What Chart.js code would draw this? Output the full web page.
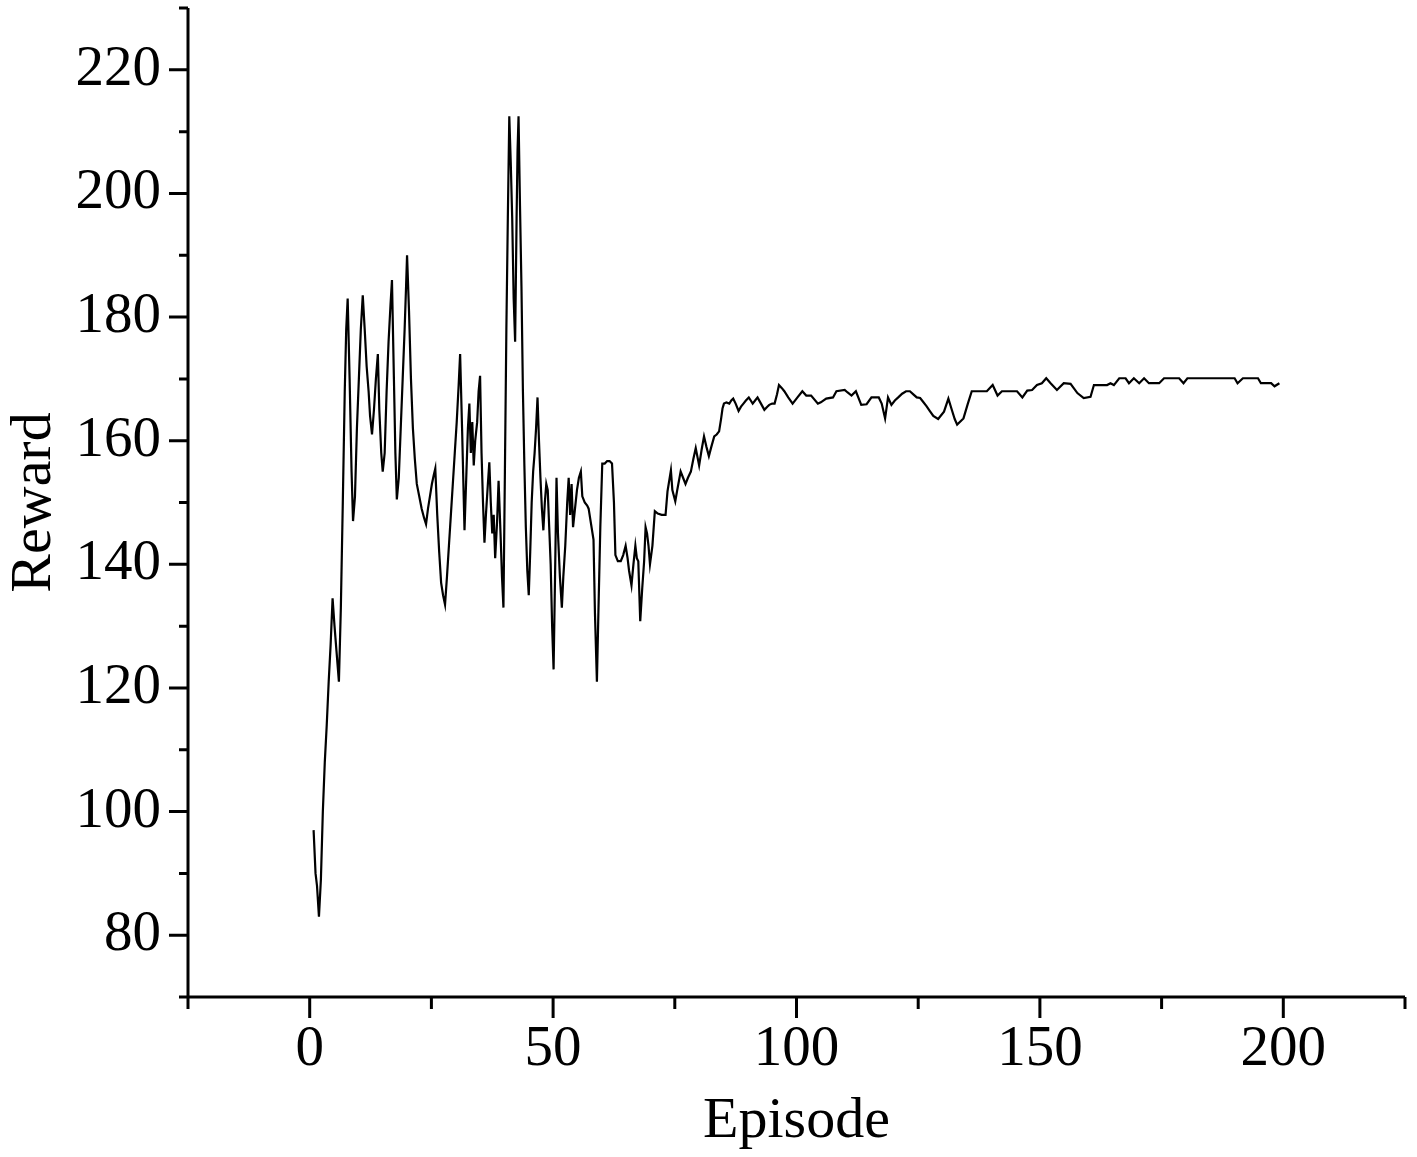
<!DOCTYPE html>
<html>
<head>
<meta charset="utf-8">
<script src="https://cdn.jsdelivr.net/npm/chart.js@4.4.0/dist/chart.umd.min.js"></script>
<style>
  html, body { margin: 0; padding: 0; background: #fff; }
</style>
</head>
<body>
<canvas id="graph" width="1417" height="1157"></canvas>
<script>
// episode positions and rewards (dense where the curve is noisy)
const episodes = [
  0.8, 1.2, 1.5, 1.9, 2.3, 2.7, 3.1, 3.5, 3.9, 4.3, 4.7, 5.1, 5.5, 6.0, 6.4, 6.8, 7.2, 7.5, 7.8, 8.2,
  8.6, 8.9, 9.3, 9.7, 10.1, 10.5, 10.9, 11.3, 11.7, 12.1, 12.4, 12.8, 13.2, 13.6, 14.0, 14.3, 14.7, 15.0, 15.4, 15.8,
  16.2, 16.6, 16.9, 17.3, 17.6, 17.9, 18.3, 18.7, 19.1, 19.5, 19.8, 20.0, 20.4, 20.8, 21.2, 21.6, 22.0, 22.5, 23.0, 23.5,
  23.9, 24.3, 24.7, 25.1, 25.5, 25.8, 26.2, 26.6, 27.0, 27.4, 27.8, 28.2, 28.6, 29.0, 29.4, 29.8, 30.2, 30.6, 30.9, 31.3,
  31.8, 32.2, 32.5, 32.8, 33.1, 33.4, 33.7, 34.0, 34.4, 34.7, 35.0, 35.3, 35.6, 35.9, 36.2, 36.6, 36.9, 37.2, 37.5, 37.8,
  38.1, 38.5, 38.8, 39.2, 39.5, 39.8, 40.1, 40.4, 40.7, 41.0, 41.3, 41.6, 41.9, 42.2, 42.5, 42.7, 42.9, 43.2, 43.5, 43.8,
  44.1, 44.4, 44.7, 45.0, 45.3, 45.6, 45.9, 46.2, 46.5, 46.8, 47.1, 47.4, 47.7, 48.0, 48.3, 48.6, 48.9, 49.2, 49.5, 49.8,
  50.1, 50.4, 50.7, 51.0, 51.4, 51.8, 52.1, 52.5, 52.9, 53.2, 53.5, 53.8, 54.1, 54.5, 54.9, 55.3, 55.7, 56.0, 56.5, 57.0,
  57.3, 57.8, 58.3, 58.6, 59.0, 59.3, 59.7, 60.1, 60.6, 61.1, 61.6, 62.1, 62.5, 62.8, 63.3, 63.9, 64.4, 64.9, 65.3, 65.6,
  66.1, 66.5, 66.9, 67.2, 67.5, 67.9, 68.3, 68.7, 69.0, 69.3, 69.6, 69.9, 70.4, 70.9, 71.5, 72.3, 73.1, 73.5, 74.2, 74.5,
  75.1, 75.5, 76.2, 76.7, 77.2, 77.7, 78.3, 78.8, 79.3, 80.0, 80.5, 81.0, 81.5, 82.0, 82.5, 83.1, 83.6, 84.1, 84.5, 84.8,
  85.1, 85.6, 86.2, 86.6, 87.0, 87.5, 88.1, 88.6, 89.1, 89.6, 90.2, 90.6, 91.0, 91.5, 92.0, 92.7, 93.4, 94.0, 94.4, 95.0,
  95.5, 96.0, 96.4, 97.0, 97.5, 98.3, 99.2, 100.2, 101.2, 102.0, 103.0, 104.4, 105.0, 106.1, 107.5, 108.2, 109.9, 110.5, 111.3, 112.2,
  113.3, 114.4, 115.4, 116.1, 116.9, 117.5, 118.2, 118.8, 119.5, 120.2, 120.9, 121.7, 122.5, 123.3, 124.0, 124.7, 125.4, 126.0, 126.7, 127.4,
  128.1, 129.1, 130.3, 131.2, 131.9, 132.5, 133.0, 134.3, 135.2, 136.0, 137.0, 138.0, 139.1, 140.3, 141.3, 142.2, 143.2, 144.3, 145.3, 146.4,
  147.4, 148.4, 149.4, 150.4, 151.3, 152.2, 153.5, 154.9, 156.3, 157.7, 159.0, 160.4, 161.1, 162.5, 163.8, 164.5, 165.2, 166.3, 167.6, 168.3,
  169.3, 170.4, 171.4, 172.4, 173.5, 174.5, 175.5, 177.0, 178.6, 179.5, 180.3, 182.0, 184.0, 186.0, 188.0, 190.0, 190.6, 191.7, 193.3, 194.8,
  195.4, 196.5, 197.5, 198.2, 199.2
];
const rewards = [
  97, 90, 88, 83, 89, 100, 108, 114, 121, 127, 134.5, 130, 126, 121, 133, 150, 168, 178, 183, 170,
  155, 147, 151, 162, 170, 178, 183.5, 178, 172, 168, 164, 161, 165, 170, 174, 165, 158, 155, 158, 168,
  176, 182, 186, 170, 158, 150.5, 154, 162, 170, 178, 185, 190, 181, 170, 162, 157, 153, 151, 149, 147.5,
  146.5, 149, 151, 153, 154.5, 155.5, 148, 142, 137, 135, 133.5, 138, 143, 148, 153, 158, 163, 169, 174, 162,
  145.5, 155, 162, 166, 158, 163, 156, 160, 163, 168, 170.5, 158, 150, 143.5, 148, 153, 156.5, 150, 145, 148,
  141, 147, 153.5, 145, 138, 133, 155, 178, 196, 212.5, 205, 196, 183, 176, 196, 207, 212.5, 198, 185, 168,
  156, 146, 139, 135, 142, 150, 155, 158, 162, 167, 160, 154, 149, 145.5, 150, 153, 152, 146, 140, 130,
  123, 138, 154, 145, 138, 133, 138, 143, 150, 154, 148, 153, 146, 149, 152, 154, 155, 151, 150, 149.5,
  149, 146.5, 144, 132, 121, 132, 146, 156.3, 156.3, 156.7, 156.7, 156.3, 150, 141.5, 140.5, 140.5, 141.5, 143, 141, 139,
  136.6, 140, 143, 141, 140.5, 130.8, 136, 140.5, 146, 145, 143, 140, 143, 148.6, 148.2, 148, 148, 151.8, 155.2, 152,
  150.2, 152, 155, 154, 153, 154, 155, 157, 158.8, 156, 158.5, 160.7, 159, 157.5, 159, 160.7, 161, 161.5, 163.5, 165.2,
  166, 166.2, 166, 166.5, 166.8, 166, 164.8, 165.5, 166, 166.5, 167, 166.5, 166, 166.5, 167, 166, 165, 165.5, 165.8, 166,
  166, 167.5, 169, 168.5, 168, 167, 166, 167, 168, 167.3, 167.3, 166, 166.2, 166.8, 167, 168, 168.2, 167.8, 167.3, 168,
  165.8, 165.9, 167, 167, 167, 166, 163.6, 167, 165.8, 166.5, 167, 167.6, 168, 168, 167.5, 167, 166.9, 166.3, 165.6, 164.8,
  164, 163.5, 164.7, 166.8, 165, 163.5, 162.6, 163.6, 166, 168, 168, 168, 168, 169, 167.3, 168, 168, 168, 168, 167,
  168.1, 168.2, 169, 169.3, 170.1, 169.3, 168.2, 169.3, 169.2, 167.7, 166.9, 167.1, 169, 169, 169, 169.3, 169, 170.1, 170.1, 169.3,
  170.1, 169.3, 170.1, 169.3, 169.3, 169.3, 170.1, 170.1, 170.1, 169.3, 170.1, 170.1, 170.1, 170.1, 170.1, 170.1, 169.3, 170.1, 170.1, 170.1,
  169.3, 169.3, 169.3, 168.8, 169.3
];

// axis ticks
const xLabels = [0, 50, 100, 150, 200];
const xMinor = [-25, 25, 75, 125, 175, 225];
const yLabels = [80, 100, 120, 140, 160, 180, 200, 220];
const yMinor = [70, 90, 110, 130, 150, 170, 190, 210, 230];

const serif = "'Liberation Serif', 'Times New Roman', serif";

// axis lines and in/out tick marks, placed with the chart's own scales
const axisMarks = {
  id: "axisMarks",
  afterDraw(chart) {
    const ctx = chart.ctx;
    const xs = chart.scales.x;
    const ys = chart.scales.y;
    const x0 = xs.getPixelForValue(-25);
    const x1 = xs.getPixelForValue(225);
    const y0 = ys.getPixelForValue(70);
    const y1 = ys.getPixelForValue(230);
    ctx.save();
    ctx.strokeStyle = "#000";
    ctx.lineWidth = 3;
    ctx.lineCap = "butt";
    ctx.beginPath();
    ctx.moveTo(x0, y1);
    ctx.lineTo(x0, y0);
    ctx.moveTo(x0 - 1.5, y0);
    ctx.lineTo(x1, y0);
    xLabels.forEach((v) => {
      const p = xs.getPixelForValue(v);
      ctx.moveTo(p, y0);
      ctx.lineTo(p, y0 + 21);
    });
    xMinor.forEach((v) => {
      const p = xs.getPixelForValue(v);
      ctx.moveTo(p, y0);
      ctx.lineTo(p, y0 + 12);
    });
    yLabels.forEach((v) => {
      const p = ys.getPixelForValue(v);
      ctx.moveTo(x0, p);
      ctx.lineTo(x0 - 19, p);
    });
    yMinor.forEach((v) => {
      const p = ys.getPixelForValue(v);
      ctx.moveTo(x0, p);
      ctx.lineTo(x0 - 9, p);
    });
    ctx.stroke();
    ctx.restore();
  },
};

const graphRef = document.getElementById("graph");

const chart = new Chart(graphRef, {
  type: "line",
  data: {
    datasets: [
      {
        label: "Reward",
        data: episodes.map((e, i) => ({ x: e, y: rewards[i] })),
        borderColor: "#000",
        borderWidth: 2.2,
        pointRadius: 0,
        tension: 0,
        fill: false,
      },
    ],
  },
  options: {
    responsive: false,
    animation: false,
    layout: { padding: { top: 8, right: 12, left: 0, bottom: 0 } },
    plugins: { legend: { display: false }, tooltip: { enabled: false } },
    scales: {
      x: {
        type: "linear",
        min: -25,
        max: 225,
        afterBuildTicks: (s) => {
          s.ticks = xLabels.map((v) => ({ value: v }));
        },
        afterFit: (s) => {
          s.height = 160;
          s.paddingLeft = 0;
          s.paddingRight = 0;
        },
        grid: { display: false, drawTicks: false },
        border: { display: false },
        ticks: {
          color: "#000",
          font: { family: serif, size: 57 },
          padding: 19,
          maxRotation: 0,
          autoSkip: false,
        },
        title: {
          display: true,
          text: "Episode",
          color: "#000",
          font: { family: serif, size: 58 },
          padding: { top: 0, bottom: 0 },
        },
      },
      y: {
        min: 70,
        max: 230,
        afterBuildTicks: (s) => {
          s.ticks = yLabels.map((v) => ({ value: v }));
        },
        afterFit: (s) => {
          s.width = 188;
          s.paddingTop = 0;
          s.paddingBottom = 0;
        },
        grid: { display: false, drawTicks: false },
        border: { display: false },
        ticks: {
          color: "#000",
          font: { family: serif, size: 57 },
          padding: 27,
          autoSkip: false,
        },
        title: {
          display: true,
          text: "Reward",
          color: "#000",
          font: { family: serif, size: 58 },
          padding: { top: 0, bottom: 0 },
        },
      },
    },
  },
  plugins: [axisMarks],
});
</script>
</body>
</html>
